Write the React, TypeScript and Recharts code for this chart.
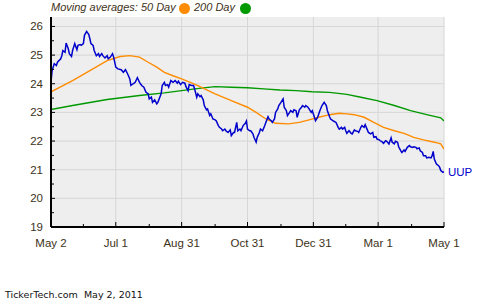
import { LineChart, Line, XAxis, YAxis, CartesianGrid } from 'recharts';

// days counted from May 2, 2010
const majorDays = [0, 60, 121, 182, 243, 303, 364];
const majorLabels = ['May 2', 'Jul 1', 'Aug 31', 'Oct 31', 'Dec 31', 'Mar 1', 'May 1'];
const minorDays = [30, 91, 152, 213, 273, 334];
const yLabels = [19, 20, 21, 22, 23, 24, 25, 26];
const yMinor = [19.5, 20.5, 21.5, 22.5, 23.5, 24.5, 25.5];

const uupDays = [
  0, 1, 3, 5, 6, 9, 10, 11, 13, 14, 16, 17, 19, 20, 22, 24, 25, 27, 28, 30,
  31, 33, 35, 36, 37, 39, 40, 42, 44, 45, 47, 48, 50, 52, 53, 55, 57, 58, 60, 62,
  65, 67, 69, 71, 73, 74, 76, 78, 80, 82, 84, 86, 88, 90, 91, 93, 94, 96, 98, 99,
  102, 103, 105, 106, 108, 109, 111, 113, 115, 117, 118, 120, 122, 124, 125, 127, 128, 130, 132, 133,
  135, 136, 138, 139, 141, 142, 144, 145, 147, 148, 150, 152, 153, 155, 156, 158, 159, 161, 162, 164,
  166, 167, 169, 170, 172, 173, 175, 176, 178, 180, 181, 182, 184, 185, 187, 188, 190, 191, 193, 194,
  196, 198, 199, 201, 202, 204, 205, 207, 208, 210, 211, 213, 215, 216, 218, 219, 221, 222, 224, 225,
  227, 228, 230, 232, 233, 235, 236, 238, 239, 241, 242, 244, 245, 247, 249, 251, 253, 255, 256, 258,
  259, 261, 262, 264, 266, 267, 269, 270, 272, 273, 274, 276, 278, 279, 281, 282, 284, 285, 287, 288,
  290, 291, 293, 294, 296, 298, 299, 301, 302, 304, 305, 307, 308, 310, 311, 313, 315, 316, 318, 319,
  321, 322, 324, 325, 327, 328, 330, 332, 333, 335, 336, 338, 339, 341, 342, 344, 345, 347, 348, 350,
  352, 353, 354, 355, 357, 359, 360, 361, 363, 364,
];
const uupValues = [
  24.05, 24.46, 24.7, 24.64, 24.75, 24.87, 24.98, 25.16, 25.1, 25.42, 25.22, 25.05, 24.95, 25.16, 25.4, 25.19, 25.34, 25.37, 25.34, 25.4,
  25.69, 25.83, 25.72, 25.57, 25.4, 25.34, 25.16, 24.98, 25.05, 24.95, 25.05, 24.98, 24.9, 24.98, 24.87, 24.93, 25.05, 24.93, 24.58, 24.52,
  24.49, 24.4, 24.49, 24.34, 24.17, 23.94, 24.0, 24.05, 24.21, 24.05, 23.94, 23.88, 23.7, 23.65, 23.47, 23.53, 23.35, 23.44, 23.3, 23.35,
  23.65, 23.94, 24.05, 23.94, 23.97, 23.88, 24.11, 24.05, 24.11, 24.02, 24.09, 23.97, 24.05, 24.02, 23.9, 23.76, 23.97, 23.94, 23.94, 23.82,
  23.53, 23.65, 23.55, 23.59, 23.44, 23.24, 23.09, 23.12, 22.89, 22.95, 22.77, 22.74, 22.71, 22.54, 22.48, 22.42, 22.36, 22.42, 22.36, 22.3,
  22.39, 22.19, 22.3, 22.3, 22.65, 22.36, 22.42, 22.36, 22.54, 22.62, 22.7, 22.42, 22.36, 22.36, 22.25, 22.13, 21.96, 22.13, 22.3, 22.42,
  22.36, 22.54, 22.65, 22.85, 22.77, 22.71, 22.65, 22.77, 23.0, 23.12, 23.24, 23.35, 23.47, 23.18, 23.06, 22.89, 23.0, 23.06, 23.0, 23.09,
  23.06, 22.83, 23.09, 23.18, 23.24, 23.18, 23.24, 23.18, 23.12, 23.0, 23.06, 22.83, 22.71, 22.83, 23.06, 23.24, 23.35, 23.24, 23.06, 22.85,
  22.77, 22.71, 22.69, 22.65, 22.48, 22.42, 22.48, 22.42, 22.48, 22.36, 22.27, 22.36, 22.27, 22.25, 22.39, 22.36, 22.34, 22.3, 22.48, 22.54,
  22.48, 22.57, 22.39, 22.3, 22.25, 22.3, 22.13, 22.15, 22.07, 22.04, 22.01, 21.96, 21.92, 22.01, 21.99, 21.9, 22.11, 21.96, 21.9, 21.99,
  21.96, 21.8, 21.66, 21.6, 21.69, 21.64, 21.78, 21.84, 21.8, 21.78, 21.8, 21.78, 21.73, 21.76, 21.66, 21.6, 21.49, 21.49, 21.41, 21.43,
  21.41, 21.49, 21.64, 21.37, 21.2, 21.14, 21.08, 20.97, 20.91, 20.93,
];

const ma50Days = [0, 20, 36, 52, 64, 73, 82, 90, 98, 105, 113, 121, 129, 137, 152, 167, 182, 190, 199, 208, 220, 230, 239, 248, 258, 267, 274, 281, 290, 299, 308, 318, 327, 336, 345, 355, 361, 364];
const ma50Values = [23.72, 24.11, 24.46, 24.81, 24.95, 24.98, 24.93, 24.75, 24.58, 24.4, 24.28, 24.17, 24.05, 23.92, 23.65, 23.41, 23.18, 23.0, 22.77, 22.62, 22.6, 22.65, 22.74, 22.83, 22.92, 22.97, 22.95, 22.92, 22.83, 22.65, 22.48, 22.36, 22.27, 22.13, 22.04, 21.96, 21.9, 21.72];

const ma200Days = [0, 20, 52, 82, 105, 121, 137, 152, 167, 182, 197, 212, 227, 242, 258, 274, 287, 302, 318, 333, 348, 361, 364];
const ma200Values = [23.1, 23.24, 23.45, 23.59, 23.68, 23.76, 23.84, 23.9, 23.88, 23.86, 23.82, 23.78, 23.76, 23.72, 23.7, 23.63, 23.53, 23.41, 23.24, 23.06, 22.92, 22.81, 22.7];

const uupData = uupDays.map((day, i) => ({ day, value: uupValues[i] }));
const ma50Data = ma50Days.map((day, i) => ({ day, value: ma50Values[i] }));
const ma200Data = ma200Days.map((day, i) => ({ day, value: ma200Values[i] }));

const textColor = '#3d3218';
const axisFont = '"Liberation Sans", Arial, sans-serif';

function XTick({ x, y, payload }: any) {
  const i = majorDays.indexOf(payload.value);
  return (
    <g>
      <line x1={x} x2={x} y1={y} y2={y - (i >= 0 ? 5 : 3)} stroke="#000" />
      {i >= 0 && (
        <text x={x} y={y + 20} textAnchor="middle" fill={textColor} fontSize={11.5} fontFamily={axisFont}>
          {majorLabels[i]}
        </text>
      )}
    </g>
  );
}

function YTick({ x, y, payload }: any) {
  const major = yLabels.includes(payload.value);
  return (
    <g>
      <line x1={x} x2={x + (major ? 4 : 3)} y1={y} y2={y} stroke="#000" />
      {major && (
        <text x={x - 8} y={y + 4} textAnchor="end" fill={textColor} fontSize={11.5} fontFamily={axisFont}>
          {payload.value}
        </text>
      )}
    </g>
  );
}

function UupLabel(props: any) {
  const { x, y, index } = props;
  if (index !== uupData.length - 1) return <g />;
  return (
    <text x={x + 4} y={y + 4} fill="#0000cc" fontSize={11.5} fontFamily={axisFont}>
      UUP
    </text>
  );
}

export default function App() {
  return (
    <div style={{ position: 'absolute', left: 0, top: 0, width: 500, height: 300, background: '#fff' }}>
      <LineChart width={500} height={300} margin={{ top: 17, right: 56, bottom: 43, left: 0 }}>
        <CartesianGrid
          fill="#eeeeee"
          stroke="#d6d6d6"
          horizontalValues={yLabels}
          verticalValues={majorDays}
        />
        <XAxis
          dataKey="day"
          type="number"
          domain={[0, 364]}
          ticks={[...majorDays, ...minorDays].sort((a, b) => a - b)}
          interval={0}
          tick={<XTick />}
          tickSize={0}
          tickMargin={0}
          tickLine={false}
          axisLine={{ stroke: '#000', strokeWidth: 2 }}
          height={30}
          allowDataOverflow
        />
        <YAxis
          type="number"
          domain={[19, 26.33]}
          ticks={[...yLabels, ...yMinor].sort((a, b) => a - b)}
          interval={0}
          tick={<YTick />}
          tickSize={0}
          tickMargin={0}
          tickLine={false}
          axisLine={{ stroke: '#000', strokeWidth: 2 }}
          width={51}
          allowDataOverflow
        />
        <Line data={ma200Data} dataKey="value" stroke="#009900" strokeWidth={1.4} dot={false} activeDot={false} isAnimationActive={false} />
        <Line data={ma50Data} dataKey="value" stroke="#ff8c00" strokeWidth={1.4} dot={false} activeDot={false} isAnimationActive={false} />
        <Line
          data={uupData}
          dataKey="value"
          stroke="#0000cc"
          strokeWidth={1.5}
          dot={false}
          activeDot={false}
          isAnimationActive={false}
          label={<UupLabel />}
        />
      </LineChart>

      <div style={{ position: 'absolute', top: 1, left: 0, fontFamily: axisFont, fontStyle: 'italic', fontSize: 11, color: textColor }}>
        <span style={{ position: 'absolute', left: 51, whiteSpace: 'nowrap' }}>Moving averages: 50 Day</span>
        <span style={{ position: 'absolute', left: 178.5, top: 2, width: 11, height: 11, borderRadius: '50%', background: '#ff8c00' }} />
        <span style={{ position: 'absolute', left: 194, whiteSpace: 'nowrap' }}>200 Day</span>
        <span style={{ position: 'absolute', left: 239.5, top: 2, width: 11, height: 11, borderRadius: '50%', background: '#009900' }} />
      </div>

      <div style={{ position: 'absolute', left: 5, top: 289, fontFamily: '"DejaVu Sans", Verdana, sans-serif', fontSize: 9.5, color: '#111', whiteSpace: 'pre' }}>
        {'TickerTech.com  May 2, 2011'}
      </div>
    </div>
  );
}
